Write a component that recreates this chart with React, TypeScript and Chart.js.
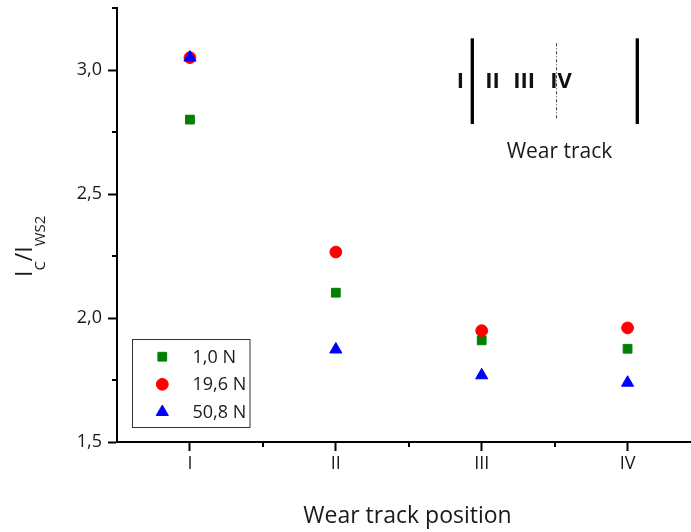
import React, { useEffect, useRef } from 'react';
import { Chart, registerables } from 'chart.js';
import { drawPoint } from 'chart.js/helpers';

Chart.register(...registerables);

// ---- data ----
const positions = [1, 2, 3, 4];
const positionLabels = ['I', 'II', 'III', 'IV'];
const seriesNames = ['1,0 N', '19,6 N', '50,8 N'];
const load1N = [2.80, 2.102, 1.91, 1.876];
const load19N = [3.05, 2.266, 1.949, 1.96];
const load50N = [3.05, 1.873, 1.769, 1.739];
const yTicks = [1.5, 2.0, 2.5, 3.0];
const yMinorTicks = [1.75, 2.25, 2.75, 3.25];
const xMinorTicks = [1.5, 2.5, 3.5];
const insetLabels = ['I', 'II', 'III', 'IV'];

const FONT = "'Open Sans', 'Liberation Sans', sans-serif";

const decorPlugin = {
  id: 'decor',
  afterDraw(chart: any) {
    const { ctx, chartArea, scales } = chart;
    const xs = scales.x;
    const ys = scales.y;
    ctx.save();
    // minor ticks
    ctx.strokeStyle = '#000';
    ctx.lineWidth = 2;
    yMinorTicks.forEach((v) => {
      const py = Math.round(ys.getPixelForValue(v));
      ctx.beginPath();
      ctx.moveTo(chartArea.left - 5, py);
      ctx.lineTo(chartArea.left, py);
      ctx.stroke();
    });
    xMinorTicks.forEach((v) => {
      const px = Math.round(xs.getPixelForValue(v));
      ctx.beginPath();
      ctx.moveTo(px, chartArea.bottom);
      ctx.lineTo(px, chartArea.bottom + 5);
      ctx.stroke();
    });
    // extend x axis line to the right edge
    ctx.beginPath();
    ctx.moveTo(chartArea.right - 2, Math.round(chartArea.bottom) + 0);
    ctx.lineTo(chart.width, Math.round(chartArea.bottom) + 0);
    ctx.stroke();

    // legend box
    ctx.lineWidth = 1;
    ctx.strokeStyle = '#333';
    ctx.strokeRect(132.5, 339.5, 117.5, 88);
    const rowY = [356.7, 384.3, 412];
    chart.data.datasets.forEach((ds: any, i: number) => {
      ctx.fillStyle = ds.backgroundColor;
      ctx.strokeStyle = ds.borderColor;
      ctx.lineWidth = 1;
      drawPoint(ctx, { pointStyle: ds.pointStyle, radius: ds.pointRadius, rotation: 0, borderWidth: 1 }, 162.3, rowY[i]);
      ctx.fillStyle = '#1a1a1a';
      ctx.font = `18px ${FONT}`;
      ctx.textBaseline = 'middle';
      ctx.textAlign = 'left';
      ctx.fillText(seriesNames[i], 192.5, rowY[i] + 1);
    });

    // y-axis title I_C / I_WS2
    ctx.fillStyle = '#1a1a1a';
    ctx.save();
    ctx.translate(31.7, 277);
    ctx.rotate(-Math.PI / 2);
    ctx.textAlign = 'left';
    ctx.textBaseline = 'alphabetic';
    let cx = 0;
    const big = `23px ${FONT}`;
    const small = `15px ${FONT}`;
    const parts: [string, boolean][] = [['I', false], ['C', true], ['/I', false], ['WS2', true]];
    parts.forEach(([t, sub]) => {
      ctx.font = sub ? small : big;
      ctx.fillText(t, cx, sub ? 13 : 0);
      cx += ctx.measureText(t).width;
    });
    ctx.restore();

    // x-axis title
    ctx.font = `23px ${FONT}`;
    ctx.textAlign = 'center';
    ctx.textBaseline = 'alphabetic';
    ctx.fillStyle = '#1a1a1a';
    ctx.fillText('Wear track position', 407.5, 522.5);

    // inset: wear track sketch
    ctx.strokeStyle = '#000';
    ctx.lineWidth = 3.3;
    [472.3, 637.3].forEach((lx) => {
      ctx.beginPath();
      ctx.moveTo(lx, 38.3);
      ctx.lineTo(lx, 124);
      ctx.stroke();
    });
    ctx.lineWidth = 1;
    ctx.strokeStyle = '#444';
    ctx.setLineDash([3, 2, 1, 2]);
    ctx.beginPath();
    ctx.moveTo(556.5, 43.3);
    ctx.lineTo(556.5, 119.3);
    ctx.stroke();
    ctx.setLineDash([]);
    ctx.fillStyle = '#111';
    ctx.font = `bold 22px ${FONT}`;
    ctx.textAlign = 'center';
    const insetX = [460.5, 492.5, 524.2, 561];
    insetLabels.forEach((t, i) => ctx.fillText(t, insetX[i], 88.3));
    ctx.font = `21px ${FONT}`;
    ctx.fillStyle = '#1a1a1a';
    ctx.fillText('Wear track', 559.5, 157.7);
    ctx.restore();
  },
};

export default function App() {
  const ref = useRef<HTMLCanvasElement | null>(null);
  useEffect(() => {
    if (!ref.current) return;
    const mk = (vals: number[]) => positions.map((p, i) => ({ x: p, y: vals[i] }));
    const chart = new Chart(ref.current, {
      type: 'scatter',
      data: {
        datasets: [
          { label: seriesNames[0], data: mk(load1N), pointStyle: 'rect', pointRadius: 6.2, backgroundColor: '#008000', borderColor: '#008000', borderWidth: 1, order: 2 },
          { label: seriesNames[1], data: mk(load19N), pointStyle: 'circle', pointRadius: 5.9, backgroundColor: '#ff0000', borderColor: '#ff0000', borderWidth: 1, order: 1 },
          { label: seriesNames[2], data: mk(load50N), pointStyle: 'triangle', pointRadius: 7, backgroundColor: '#0000ff', borderColor: '#0000ff', borderWidth: 1, order: 0 },
        ],
      } as any,
      options: {
        animation: false,
        responsive: false,
        maintainAspectRatio: false,
        layout: { padding: { top: 8, left: 0, right: 0, bottom: 0 } },
        plugins: { legend: { display: false }, tooltip: { enabled: false } },
        scales: {
          x: {
            type: 'linear',
            min: 0.5,
            max: 4.38,
            afterFit: (s: any) => { s.height = 90; s.paddingLeft = 0; s.paddingRight = 0; },
            afterBuildTicks: (s: any) => { s.ticks = positions.map((v) => ({ value: v })); },
            ticks: {
              callback: (v: any) => positionLabels[positions.indexOf(Number(v))] ?? '',
              font: { family: FONT, size: 18 },
              color: '#1a1a1a',
              padding: 2,
              maxRotation: 0,
              autoSkip: false,
            },
            grid: { drawOnChartArea: false, tickLength: 9, tickWidth: 2, tickColor: '#000' },
            border: { width: 2, color: '#000' },
          },
          y: {
            min: 1.5,
            max: 3.25,
            afterFit: (s: any) => { s.width = 117; s.paddingTop = 0; s.paddingBottom = 0; },
            afterBuildTicks: (s: any) => { s.ticks = yTicks.map((v) => ({ value: v })); },
            ticks: {
              callback: (v: any) => Number(v).toFixed(1).replace('.', ','),
              font: { family: FONT, size: 18 },
              color: '#1a1a1a',
              padding: 6,
            },
            grid: { drawOnChartArea: false, tickLength: 9, tickWidth: 2, tickColor: '#000' },
            border: { width: 2, color: '#000' },
          },
        },
      } as any,
      plugins: [decorPlugin],
    });
    return () => chart.destroy();
  }, []);
  return (
    <div style={{ position: 'absolute', left: 0, top: 0, width: 691, height: 532, background: '#fff' }}>
      <canvas ref={ref} width={691} height={532} />
    </div>
  );
}
